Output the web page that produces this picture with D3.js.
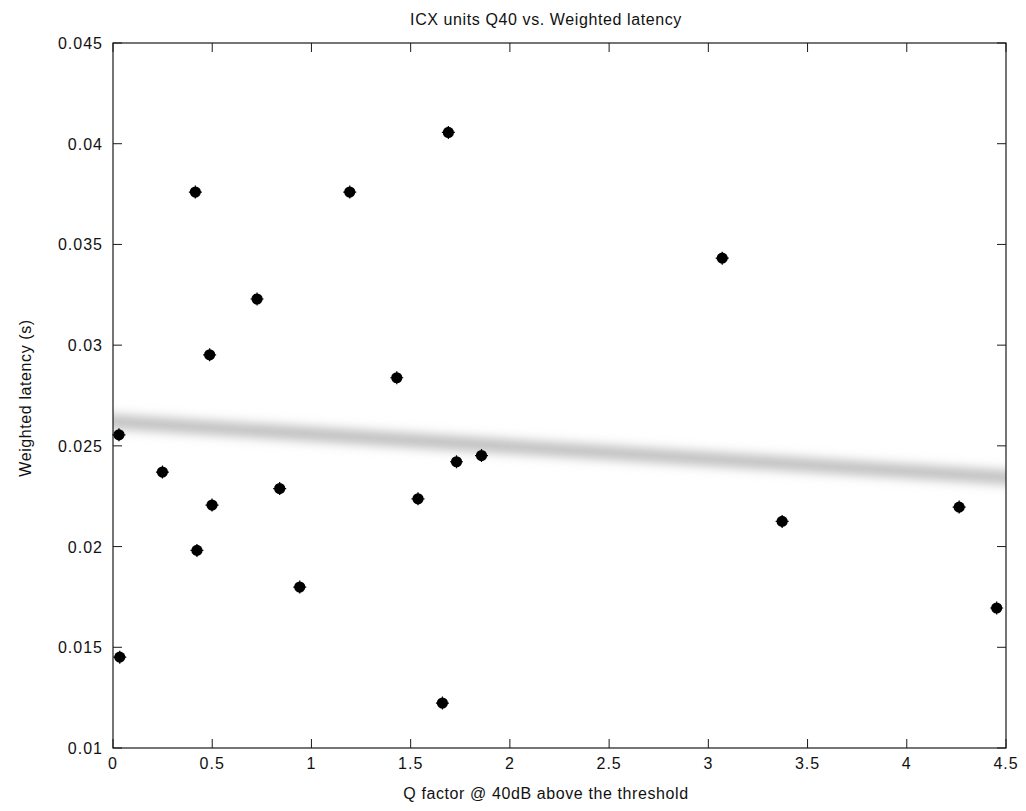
<!DOCTYPE html>
<html>
<head>
<meta charset="utf-8">
<script src="https://cdn.jsdelivr.net/npm/d3@7"></script>
<style>
  body { margin: 0; background: #fff; }
  text { font-family: "Liberation Sans", Arial, sans-serif; fill: #111; }
</style>
</head>
<body>
<div id="myplot"></div>
<script>
// data
var qfactor = [0.030, 0.034, 0.249, 0.415, 0.423, 0.487, 0.499, 0.726, 0.840, 0.941,
               1.193, 1.430, 1.537, 1.660, 1.690, 1.731, 1.857, 3.070, 3.372, 4.264, 4.453];
var latency = [0.02555, 0.01451, 0.02370, 0.03760, 0.01981, 0.02952, 0.02206, 0.03229, 0.02288, 0.01799,
               0.03760, 0.02838, 0.02237, 0.01223, 0.04056, 0.02421, 0.02452, 0.03432, 0.02125, 0.02196, 0.01695];
var fitX = [0, 4.5];
var fitY = [0.0262, 0.02343];
var xticks = [0, 0.5, 1, 1.5, 2, 2.5, 3, 3.5, 4, 4.5];
var yticks = [0.01, 0.015, 0.02, 0.025, 0.03, 0.035, 0.04, 0.045];

var pLeft = 113, pRight = 1006, pTop = 43, pBottom = 748;

var svg = d3.select('div#myplot')
  .append('svg')
  .attr('width', 1026)
  .attr('height', 811);

var x = d3.scaleLinear().domain([0, 4.5]).range([pLeft, pRight]);
var y = d3.scaleLinear().domain([0.01, 0.045]).range([pBottom, pTop]);

var defs = svg.append("defs");
defs.append("filter").attr("id", "blur")
  .attr("filterUnits", "userSpaceOnUse")
  .attr("x", 0).attr("y", 0).attr("width", 1026).attr("height", 811)
  .append("feGaussianBlur").attr("stdDeviation", "6");
defs.append("clipPath").attr("id", "clip")
  .append("rect").attr("x", pLeft).attr("y", pTop)
  .attr("width", pRight - pLeft).attr("height", pBottom - pTop);

// regression band (extended a bit past the box, then clipped)
var slope = (y(fitY[1]) - y(fitY[0])) / (x(fitX[1]) - x(fitX[0]));
var band = svg.append("g").attr("clip-path", "url(#clip)");
band.append("line")
  .attr("x1", x(fitX[0]) - 20).attr("y1", y(fitY[0]) - 20 * slope)
  .attr("x2", x(fitX[1]) + 20).attr("y2", y(fitY[1]) + 20 * slope)
  .attr("stroke", "#b4b4b4")
  .attr("stroke-width", 12)
  .attr("filter", "url(#blur)");

// axes box with inward ticks
var ax = svg.append("g").attr("id", "axes");
ax.append("rect")
  .attr("x", pLeft).attr("y", pTop)
  .attr("width", pRight - pLeft).attr("height", pBottom - pTop)
  .attr("fill", "none").attr("stroke", "#1a1a1a").attr("stroke-width", 1.2);

var tl = 9;
ax.selectAll("line.xb").data(xticks).enter().append("line")
  .attr("x1", d => x(d)).attr("x2", d => x(d))
  .attr("y1", pBottom).attr("y2", pBottom - tl)
  .attr("stroke", "#1a1a1a");
ax.selectAll("line.xt").data(xticks).enter().append("line")
  .attr("x1", d => x(d)).attr("x2", d => x(d))
  .attr("y1", pTop).attr("y2", pTop + tl)
  .attr("stroke", "#1a1a1a");
ax.selectAll("line.yl").data(yticks).enter().append("line")
  .attr("x1", pLeft).attr("x2", pLeft + tl)
  .attr("y1", d => y(d)).attr("y2", d => y(d))
  .attr("stroke", "#1a1a1a");
ax.selectAll("line.yr").data(yticks).enter().append("line")
  .attr("x1", pRight).attr("x2", pRight - tl)
  .attr("y1", d => y(d)).attr("y2", d => y(d))
  .attr("stroke", "#1a1a1a");

ax.selectAll("text.xl").data(xticks).enter().append("text")
  .attr("x", d => x(d)).attr("y", pBottom + 21)
  .attr("text-anchor", "middle")
  .attr("font-size", "16").attr("letter-spacing", "1")
  .text(d => d3.format("~g")(d));

ax.selectAll("text.ylab").data(yticks).enter().append("text")
  .attr("x", pLeft - 10).attr("y", d => y(d) + 6)
  .attr("text-anchor", "end")
  .attr("font-size", "16").attr("letter-spacing", "1")
  .text(d => d3.format("~g")(d));

// points
var pts = svg.append("g").attr("id", "points");
var star = "M-6.5,0L6.5,0M0,-6.5L0,6.5";
qfactor.forEach(function (q, i) {
  var g = pts.append("g").attr("transform", "translate(" + x(q) + "," + y(latency[i]) + ")");
  g.append("circle").attr("r", 5.6).attr("fill", "#000");
  g.append("path").attr("d", star).attr("stroke", "#000").attr("stroke-width", 1.2);
});

// titles
svg.append("text")
  .attr("x", 546).attr("y", 25)
  .attr("text-anchor", "middle")
  .attr("font-size", "16").attr("letter-spacing", "0.6")
  .text("ICX units Q40 vs. Weighted latency");

svg.append("text")
  .attr("x", 546).attr("y", 799)
  .attr("text-anchor", "middle")
  .attr("font-size", "16").attr("letter-spacing", "0.6")
  .text("Q factor @ 40dB above the threshold");

svg.append("text")
  .attr("transform", "translate(31,398) rotate(-90)")
  .attr("text-anchor", "middle")
  .attr("font-size", "16").attr("letter-spacing", "0.6")
  .text("Weighted latency (s)");
</script>
</body>
</html>
